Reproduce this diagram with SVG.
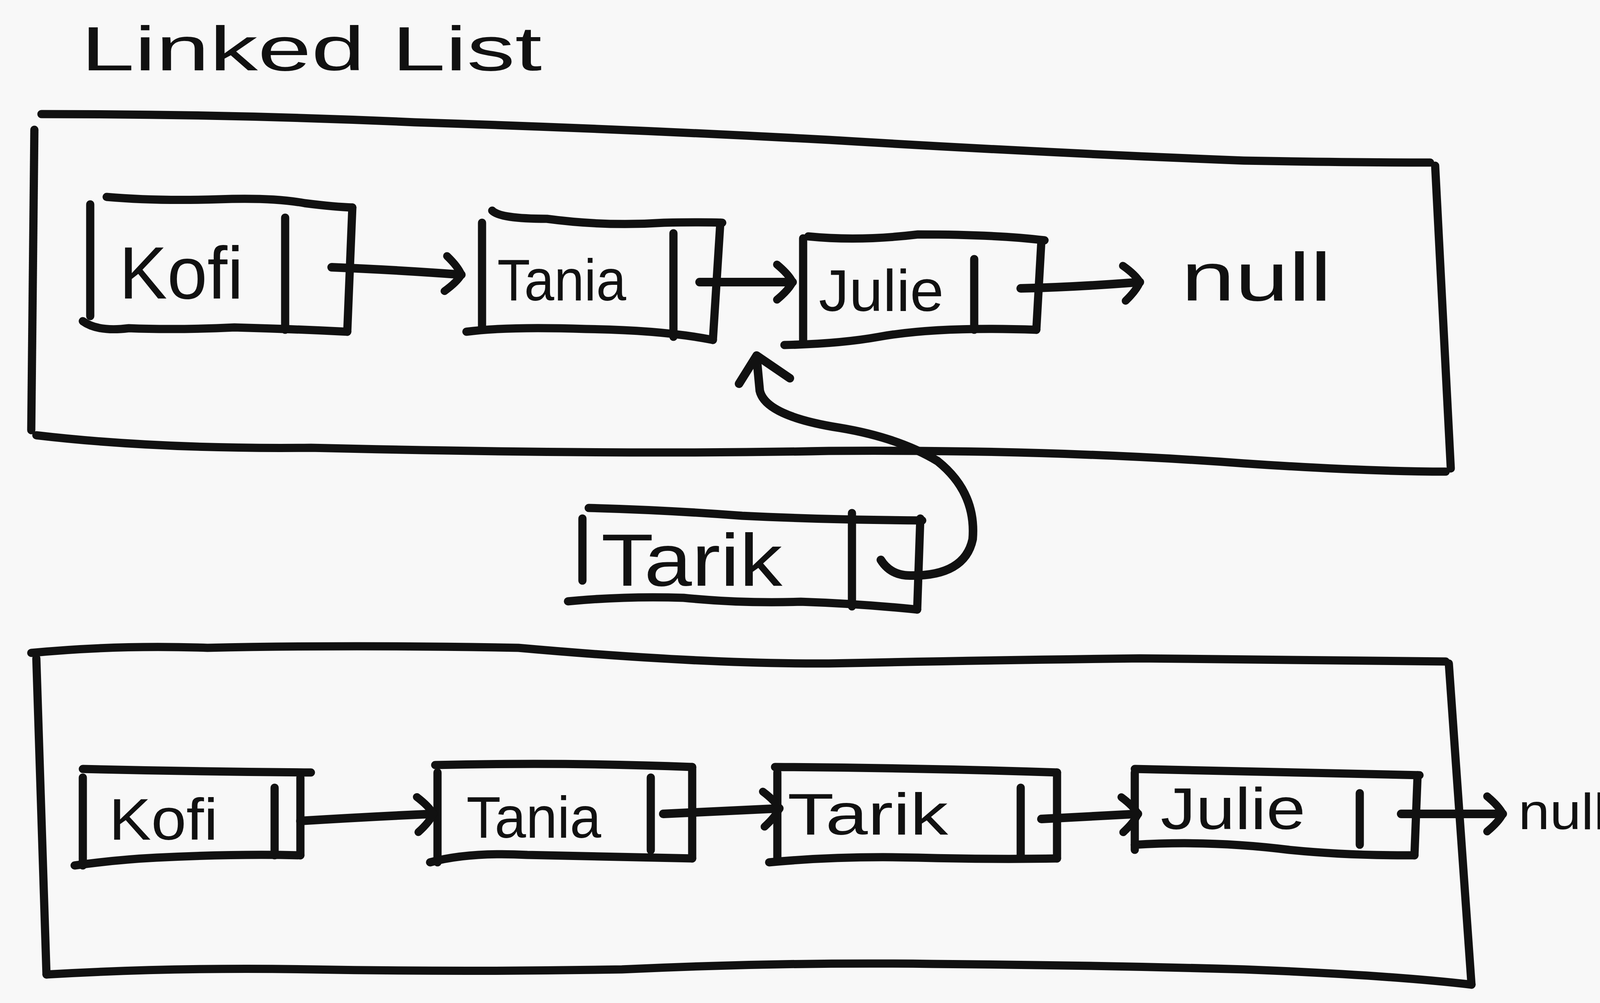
<svg xmlns="http://www.w3.org/2000/svg" width="4160" height="2567" viewBox="0 0 4160 2567">
<style>
.ln{fill:none;stroke:#111;stroke-width:21;stroke-linecap:round;stroke-linejoin:round}
.ar{fill:none;stroke:#111;stroke-width:22;stroke-linecap:round;stroke-linejoin:round}
.tx{font-family:"Liberation Sans","DejaVu Sans",sans-serif;fill:#111}
.nm{font-size:190px}
.nm2{font-size:150px}
</style>
<defs>
<marker id="ah" markerUnits="userSpaceOnUse" markerWidth="90" markerHeight="110" viewBox="0 0 90 110" refX="70" refY="55" orient="auto">
<path d="M30,10 Q60,35 70,55 Q60,75 30,100" fill="none" stroke="#111" stroke-width="20" stroke-linecap="round" stroke-linejoin="round"/>
</marker>
</defs>
<rect width="4160" height="2567" fill="#f8f8f8"/>
<g id="title"><text class="tx" x="207" y="180" font-size="160" textLength="1180" lengthAdjust="spacingAndGlyphs">Linked List</text></g>

<g id="list-before">
<path class="ln" d="M106,292 Q600,292 1061,313 Q1600,330 2122,358 Q2650,390 3184,411 Q3450,416 3661,416"/>
<path class="ln" d="M3674,424 L3714,1199"/>
<path class="ln" d="M93,1114 Q400,1150 796,1146 Q1600,1165 2122,1154 Q2700,1150 3184,1186 Q3500,1207 3701,1207"/>
<path class="ln" d="M88,332 L80,1101"/>
</g>

<g id="kofi-1">
<path class="ln" d="M273,504 Q400,515 560,510 Q700,505 780,520 Q860,530 902,531"/>
<path class="ln" d="M231,523 L231,809"/>
<path class="ln" d="M212,822 Q250,850 330,840 Q450,845 600,838 Q750,842 889,849"/>
<path class="ln" d="M902,531 L889,849"/>
<path class="ln" d="M730,557 L730,844"/>
<text class="tx nm" x="305" y="764" textLength="318" lengthAdjust="spacingAndGlyphs">Kofi</text>
</g>

<g id="tania-1">
<path class="ln" d="M1260,539 Q1280,560 1400,560 Q1550,580 1700,570 Q1800,568 1849,570"/>
<path class="ln" d="M1234,570 L1234,844"/>
<path class="ln" d="M1194,849 Q1300,835 1500,842 Q1700,845 1825,870"/>
<path class="ln" d="M1844,570 L1825,870"/>
<path class="ln" d="M1724,597 L1724,862"/>
<text class="tx nm2" x="1273" y="769" textLength="330" lengthAdjust="spacingAndGlyphs">Tania</text>
</g>

<g id="julie-1">
<path class="ln" d="M2069,605 Q2200,618 2350,600 Q2550,600 2674,615"/>
<path class="ln" d="M2056,610 L2056,875"/>
<path class="ln" d="M2008,883 Q2150,880 2250,862 Q2400,835 2653,844"/>
<path class="ln" d="M2666,615 L2653,844"/>
<path class="ln" d="M2494,663 L2494,844"/>
<text class="tx nm2" x="2096" y="796" textLength="320" lengthAdjust="spacingAndGlyphs">Julie</text>
</g>

<g id="null-1"><text class="tx" x="3024" y="769" font-size="175" textLength="385" lengthAdjust="spacingAndGlyphs">null</text></g>

<g id="tarik-new">
<path class="ln" d="M1507,1300 Q1700,1305 1900,1320 Q2100,1330 2361,1332"/>
<path class="ln" d="M1491,1327 L1491,1486"/>
<path class="ln" d="M1454,1539 Q1600,1525 1750,1530 Q1900,1545 2050,1540 Q2200,1545 2348,1560"/>
<path class="ln" d="M2356,1327 L2348,1560"/>
<path class="ln" d="M2181,1313 L2181,1552"/>
<text class="tx" x="1539" y="1499" font-size="190" textLength="464" lengthAdjust="spacingAndGlyphs">Tarik</text>
</g>

<g id="list-after">
<path class="ln" d="M80,1671 Q300,1650 531,1658 Q900,1650 1327,1658 Q1800,1700 2122,1698 Q2500,1690 2918,1685 Q3400,1690 3701,1693"/>
<path class="ln" d="M3709,1698 L3767,2520"/>
<path class="ln" d="M119,2494 Q450,2475 796,2481 Q1200,2488 1592,2481 Q2000,2462 2388,2467 Q2800,2470 3184,2481 Q3550,2495 3767,2520"/>
<path class="ln" d="M93,1685 L119,2494"/>
</g>

<g id="kofi-2">
<path class="ln" d="M212,1968 Q500,1975 796,1977"/>
<path class="ln" d="M212,1990 L212,2215"/>
<path class="ln" d="M191,2215 Q300,2200 400,2195 Q600,2185 769,2189"/>
<path class="ln" d="M769,1990 L769,2189"/>
<path class="ln" d="M703,2016 L703,2189"/>
<text class="tx nm2" x="279" y="2149" textLength="279" lengthAdjust="spacingAndGlyphs">Kofi</text>
</g>

<g id="tania-2">
<path class="ln" d="M1114,1958 Q1450,1950 1772,1963"/>
<path class="ln" d="M1120,1977 L1120,2207"/>
<path class="ln" d="M1101,2207 Q1200,2180 1350,2188 Q1550,2192 1772,2197"/>
<path class="ln" d="M1772,1963 L1772,2197"/>
<path class="ln" d="M1666,1990 L1666,2176"/>
<text class="tx nm2" x="1194" y="2144" textLength="345" lengthAdjust="spacingAndGlyphs">Tania</text>
</g>

<g id="tarik-2">
<path class="ln" d="M1984,1963 Q2350,1965 2706,1977"/>
<path class="ln" d="M1990,1977 L1990,2202"/>
<path class="ln" d="M1969,2207 Q2150,2190 2350,2195 Q2550,2200 2706,2197"/>
<path class="ln" d="M2706,1977 L2706,2197"/>
<path class="ln" d="M2613,2016 L2613,2197"/>
<text class="tx nm2" x="2016" y="2136" textLength="411" lengthAdjust="spacingAndGlyphs">Tarik</text>
</g>

<g id="julie-2">
<path class="ln" d="M2905,1968 Q3250,1975 3634,1984"/>
<path class="ln" d="M2905,1977 L2905,2175"/>
<path class="ln" d="M2905,2162 Q3100,2150 3300,2175 Q3450,2190 3621,2189"/>
<path class="ln" d="M3629,1984 L3621,2189"/>
<path class="ln" d="M3481,2030 L3481,2162"/>
<text class="tx nm2" x="2971" y="2122" textLength="371" lengthAdjust="spacingAndGlyphs">Julie</text>
</g>

<g id="null-2"><text class="tx" x="3887" y="2122" font-size="130" textLength="225" lengthAdjust="spacingAndGlyphs">null</text></g>

<g id="connectors">
<path class="ar" marker-end="url(#ah)" d="M849,684 Q1000,690 1181,703"/>
<path class="ar" marker-end="url(#ah)" d="M1791,722 L2029,722"/>
<path class="ar" marker-end="url(#ah)" d="M2613,738 Q2750,735 2918,722"/>
<path class="ar" d="M2255,1433 Q2280,1473 2330,1473 Q2470,1475 2490,1380 Q2500,1260 2400,1180 Q2300,1120 2150,1095 Q1960,1065 1945,1000 L1937,915"/>
<path class="ar" d="M1892,982 L1937,910 L2022,968"/>
<path class="ar" marker-end="url(#ah)" d="M769,2101 Q950,2090 1109,2083"/>
<path class="ar" marker-end="url(#ah)" d="M1698,2083 L1995,2069"/>
<path class="ar" marker-end="url(#ah)" d="M2666,2096 L2913,2083"/>
<path class="ar" marker-end="url(#ah)" d="M3587,2083 L3847,2083"/>
</g>
</svg>
